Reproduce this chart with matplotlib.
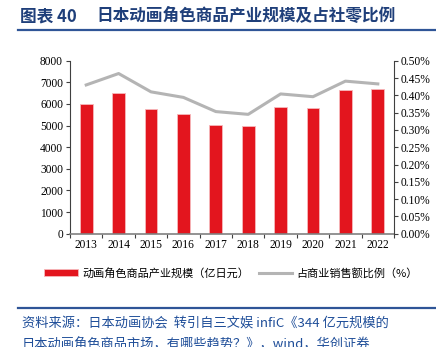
import matplotlib.pyplot as plt
from matplotlib.lines import Line2D

plt.rcParams['font.family'] = ['Noto Sans CJK SC', 'DejaVu Sans']

years = ['2013', '2014', '2015', '2016', '2017', '2018', '2019', '2020', '2021', '2022']
scale = [5980, 6530, 5780, 5520, 5020, 4990, 5840, 5810, 6630, 6670]
ratio = [0.430, 0.463, 0.410, 0.394, 0.353, 0.345, 0.404, 0.396, 0.441, 0.433]

left_ticks = [0, 1000, 2000, 3000, 4000, 5000, 6000, 7000, 8000]
right_ticks = [0.00, 0.05, 0.10, 0.15, 0.20, 0.25, 0.30, 0.35, 0.40, 0.45, 0.50]

red = '#e3151e'
grey = '#b4b4b4'
blue = '#1f3f7a'
serif = 'Liberation Serif'

fig = plt.figure(figsize=(4.36, 3.47), dpi=100)

# title and rules
fig.text(0.046, 0.953, '图表 40', fontsize=12, fontweight='bold', color=blue,
         va='center', ha='left')
fig.text(0.222, 0.953, '日本动画角色商品产业规模及占社零比例', fontsize=12,
         fontweight='bold', color=blue, va='center', ha='left')
fig.add_artist(Line2D([0.041, 1.0], [0.914, 0.914], color='#2f5597', lw=1.6))
fig.add_artist(Line2D([0.041, 1.0], [0.112, 0.112], color='#2f5597', lw=1.6))
fig.text(0.05, 0.068, '资料来源：日本动画协会  转引自三文娱 infiC《344 亿元规模的',
         fontsize=9.5, color='#1f4e99', va='center', ha='left')
fig.text(0.05, 0.005, '日本动画角色商品市场，有哪些趋势？》，wind，华创证券',
         fontsize=9.5, color='#1f4e99', va='center', ha='left')

ax = fig.add_axes([0.1606, 0.3265, 0.7431, 0.4985])
x = list(range(len(years)))
bars = ax.bar(x, scale, width=0.4, color=red, edgecolor='#f6b8bb', linewidth=0.6,
              label='动画角色商品产业规模（亿日元）', zorder=2)
ax.set_ylim(0, 8000)
ax.set_xlim(-0.5, len(years) - 0.5)
ax.set_yticks(left_ticks)
ax.set_yticklabels([str(v) for v in left_ticks], fontfamily=serif, fontsize=8.3)
ax.set_xticks([i - 0.5 for i in range(len(years) + 1)], minor=False)
ax.set_xticklabels([])
ax.set_xticks(x, minor=True)
ax.set_xticklabels(years, minor=True, fontfamily=serif, fontsize=8.3)
ax.tick_params(axis='x', which='minor', length=0, pad=4)
ax.tick_params(axis='x', which='major', length=3, direction='out', color='#404040')
ax.tick_params(axis='y', length=3, direction='out', color='#404040', pad=2)
for s in ['top', 'right']:
    ax.spines[s].set_visible(False)
ax.spines['left'].set_color('#404040')
ax.spines['bottom'].set_color('#808080')
ax.spines['bottom'].set_linewidth(1.2)

ax2 = ax.twinx()
line, = ax2.plot(x, ratio, color=grey, lw=2.2, label='占商业销售额比例（%）', zorder=3)
ax2.set_ylim(0, 0.5)
ax2.set_yticks(right_ticks)
ax2.set_yticklabels(['%.2f%%' % v for v in right_ticks], fontfamily=serif, fontsize=8.3)
ax2.tick_params(axis='y', length=3, direction='out', color='#404040', pad=2)
for s in ['top', 'left', 'bottom']:
    ax2.spines[s].set_visible(False)
ax2.spines['right'].set_color('#404040')

fig.legend([bars, line], ['动画角色商品产业规模（亿日元）', '占商业销售额比例（%）'],
           loc='center', bbox_to_anchor=(0.53, 0.213), ncol=2, frameon=False,
           fontsize=8, handlelength=3.0, handleheight=0.5, columnspacing=0.9,
           handletextpad=0.4)

fig.savefig('out.png', dpi=100)
